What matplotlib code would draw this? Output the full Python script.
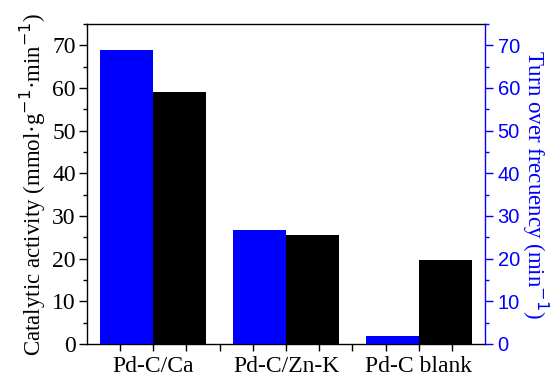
import matplotlib
matplotlib.use("Agg")
import matplotlib.pyplot as plt
import numpy as np
from matplotlib.ticker import MultipleLocator, FixedLocator

# data
catalysts = ["Pd-C/Ca", "Pd-C/Zn-K", "Pd-C blank"]
activity = [59, 25.5, 19.8]      # black bars, left axis (mmol g-1 min-1)
tof = [69, 26.8, 1.9]            # blue bars, right axis (min-1)

SERIF = ["Liberation Serif", "DejaVu Serif"]
BLUE = "#0000ff"

fig = plt.figure(figsize=(5.5, 3.78), dpi=100)
ax = fig.add_axes([0.158, 0.09, 0.724, 0.8465])
ax2 = ax.twinx()

x = np.arange(len(catalysts))
w = 0.4
ax2.bar(x - w / 2, tof, width=w, color=BLUE, edgecolor="none", zorder=2)
ax.bar(x + w / 2, activity, width=w, color="black", edgecolor="none", zorder=2)

ax.set_xlim(-0.5, 2.5)
for a in (ax, ax2):
    a.set_ylim(0, 75)
    a.yaxis.set_major_locator(MultipleLocator(10))
    a.yaxis.set_minor_locator(MultipleLocator(5))

ax.set_xticks(x)
ax.set_xticklabels(catalysts, fontsize=17, family=SERIF)
ax.xaxis.set_minor_locator(FixedLocator([-0.25, 0.25, 0.5, 0.75, 1.25, 1.5, 1.75, 2.25]))
ax.tick_params(axis="x", which="both", direction="out", length=5, width=1, pad=4)
ax.tick_params(axis="y", which="major", direction="out", length=6, width=1,
               labelsize=17, pad=2)
ax.tick_params(axis="y", which="minor", direction="out", length=3, width=1)
for lab in ax.get_yticklabels():
    lab.set_family(SERIF)
ax.set_ylabel("Catalytic activity (mmol·g$^{-1}$·min$^{-1}$)", fontsize=16.5,
              family=SERIF, labelpad=3)

ax2.tick_params(axis="y", which="major", direction="out", length=6, width=1,
                colors=BLUE, labelsize=14.5, pad=3)
ax2.tick_params(axis="y", which="minor", direction="out", length=3, width=1,
                colors=BLUE)
for lab in ax2.get_yticklabels():
    lab.set_family(["Liberation Sans", "DejaVu Sans"])
ax2.set_ylabel("Turn over frecuency (min$^{-1}$)", fontsize=16.5, family=SERIF,
               color=BLUE, rotation=270, labelpad=22)
ax2.spines["right"].set_color(BLUE)
ax2.spines["left"].set_visible(False)
ax2.spines["bottom"].set_visible(False)
ax2.spines["top"].set_visible(False)
for s in ("left", "bottom", "top"):
    ax.spines[s].set_linewidth(1)
ax.spines["right"].set_visible(False)
ax2.spines["right"].set_linewidth(1)

fig.savefig("out.png", dpi=100)
